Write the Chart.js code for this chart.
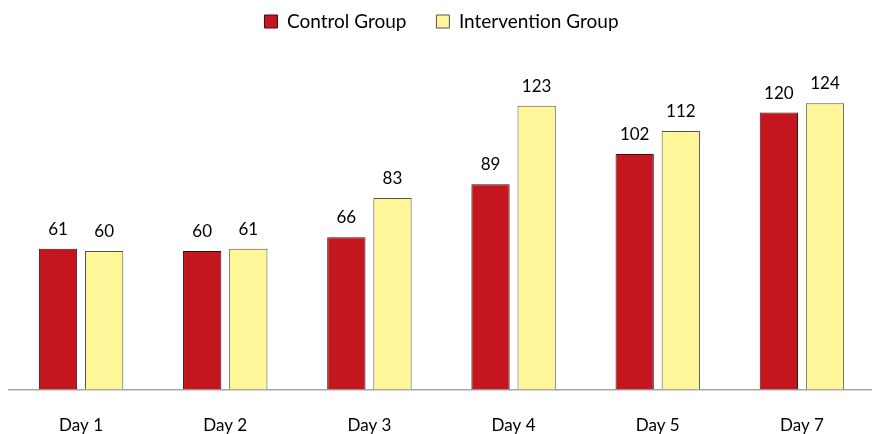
<!DOCTYPE html>
<html>
<head>
<meta charset="utf-8">
<script src="https://cdn.jsdelivr.net/npm/chart.js@4"></script>
<style>
html,body{margin:0;padding:0;background:#fff;overflow:hidden;}
#wrap{position:relative;width:874px;height:434px;}
</style>
</head>
<body>
<div id="wrap"><canvas id="c"></canvas></div>
<script>
const categories = ["Day 1", "Day 2", "Day 3", "Day 4", "Day 5", "Day 7"];
const controlValues = [61, 60, 66, 89, 102, 120];
const interventionValues = [60, 61, 83, 123, 112, 124];
const seriesNames = ["Control Group", "Intervention Group"];

const FONT = "Lato, 'Open Sans', sans-serif";

const valueLabels = {
  id: 'valueLabels',
  afterDatasetsDraw(chart) {
    const ctx = chart.ctx;
    ctx.save();
    ctx.font = "17px " + FONT;
    ctx.fillStyle = "#000";
    ctx.textAlign = "center";
    ctx.textBaseline = "alphabetic";
    chart.data.datasets.forEach((ds, i) => {
      chart.getDatasetMeta(i).data.forEach((bar, j) => {
        ctx.fillText(String(ds.data[j]), bar.x, bar.y - 14);
      });
    });
    ctx.restore();
  }
};

new Chart(document.getElementById('c'), {
  type: 'bar',
  data: {
    labels: categories,
    datasets: [
      {label: seriesNames[0], data: controlValues, backgroundColor: '#C3161E', borderColor: '#3a1010', borderWidth: 1},
      {label: seriesNames[1], data: interventionValues, backgroundColor: '#FFF599', borderColor: '#555548', borderWidth: 1}
    ]
  },
  options: {
    responsive: true,
    maintainAspectRatio: false,
    animation: false,
    layout: {padding: {left: 9, right: 0, top: -18, bottom: -28}},
    categoryPercentage: 0.64,
    barPercentage: 0.83,
    plugins: {
      legend: {
        position: 'top',
        labels: {
          boxWidth: 13, boxHeight: 13, padding: 30,
          color: '#000',
          font: {family: FONT, size: 19}
        }
      },
      tooltip: {enabled: false}
    },
    scales: {
      x: {
        grid: {display: false, drawTicks: false},
        border: {display: true, color: '#a6a6a6', width: 1.5},
        ticks: {color: '#000', font: {family: FONT, size: 17}, padding: 26}
      },
      y: {
        display: false,
        min: 0, max: 151
      }
    }
  },
  plugins: [valueLabels]
});
</script>
</body>
</html>
